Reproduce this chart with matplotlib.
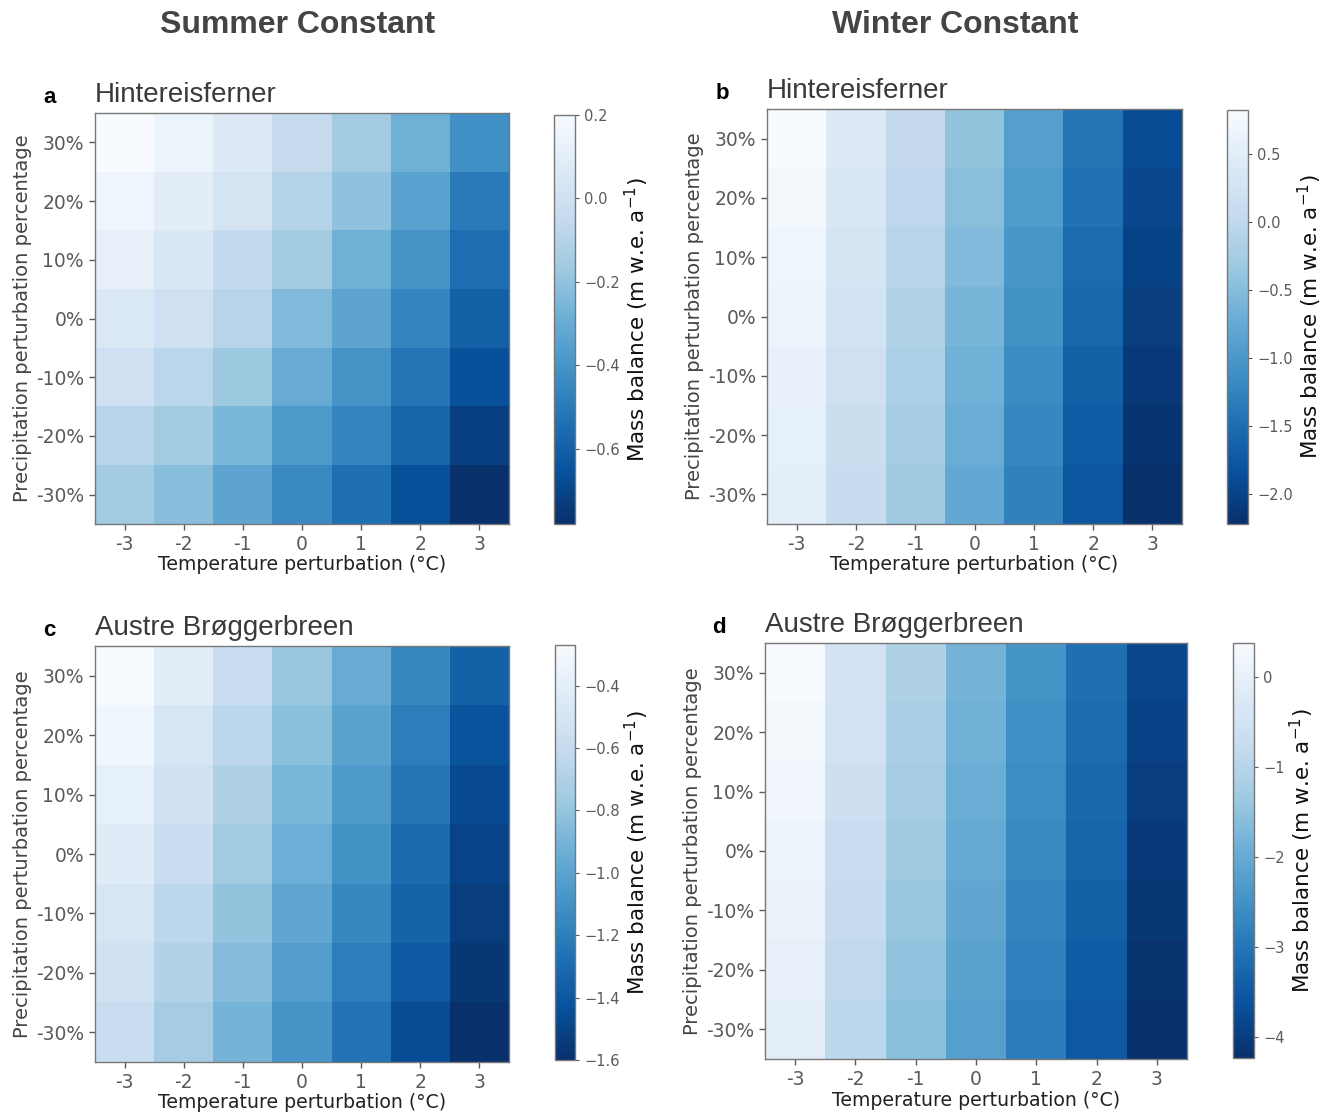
import numpy as np
import matplotlib
matplotlib.use("Agg")
import matplotlib.pyplot as plt
from matplotlib.colors import Normalize
from matplotlib.ticker import FuncFormatter

# ---------------- data ----------------
temp_labels = ["-3", "-2", "-1", "0", "1", "2", "3"]
precip_labels = ["30%", "20%", "10%", "0%", "-10%", "-20%", "-30%"]

# rows: precipitation 30% -> -30%, columns: temperature -3 -> 3
hef_summer = [
    [0.20, 0.14, 0.07, -0.04, -0.15, -0.28, -0.42],
    [0.16, 0.10, 0.03, -0.10, -0.20, -0.34, -0.50],
    [0.12, 0.05, -0.05, -0.15, -0.28, -0.40, -0.55],
    [0.06, 0.00, -0.09, -0.24, -0.33, -0.46, -0.60],
    [0.00, -0.08, -0.17, -0.30, -0.40, -0.52, -0.66],
    [-0.09, -0.15, -0.25, -0.38, -0.46, -0.58, -0.72],
    [-0.15, -0.22, -0.33, -0.44, -0.54, -0.66, -0.78],
]
hef_winter = [
    [0.82, 0.42, 0.05, -0.40, -0.90, -1.40, -1.88],
    [0.76, 0.36, -0.02, -0.47, -0.96, -1.46, -1.94],
    [0.70, 0.30, -0.08, -0.53, -1.02, -1.52, -2.00],
    [0.64, 0.25, -0.13, -0.60, -1.08, -1.58, -2.06],
    [0.60, 0.20, -0.18, -0.66, -1.14, -1.64, -2.12],
    [0.56, 0.15, -0.24, -0.72, -1.20, -1.70, -2.17],
    [0.52, 0.10, -0.30, -0.78, -1.26, -1.76, -2.22],
]
ab_summer = [
    [-0.27, -0.42, -0.58, -0.78, -0.95, -1.15, -1.35],
    [-0.32, -0.48, -0.64, -0.83, -1.00, -1.20, -1.42],
    [-0.38, -0.53, -0.70, -0.88, -1.05, -1.24, -1.46],
    [-0.43, -0.58, -0.75, -0.93, -1.10, -1.30, -1.50],
    [-0.48, -0.64, -0.80, -0.98, -1.15, -1.34, -1.53],
    [-0.53, -0.69, -0.85, -1.03, -1.20, -1.39, -1.56],
    [-0.58, -0.74, -0.90, -1.08, -1.26, -1.45, -1.60],
]
ab_winter = [
    [0.38, -0.45, -1.10, -1.80, -2.45, -3.10, -3.85],
    [0.30, -0.52, -1.18, -1.87, -2.52, -3.17, -3.92],
    [0.22, -0.60, -1.25, -1.94, -2.59, -3.24, -3.98],
    [0.15, -0.67, -1.33, -2.01, -2.66, -3.31, -4.04],
    [0.08, -0.74, -1.40, -2.08, -2.73, -3.38, -4.10],
    [0.01, -0.82, -1.48, -2.15, -2.80, -3.45, -4.16],
    [-0.06, -0.90, -1.55, -2.22, -2.87, -3.52, -4.23],
]

panels = [
    ("a", "Hintereisferner", hef_summer, [0.2, 0.0, -0.2, -0.4, -0.6], "%.1f"),
    ("b", "Hintereisferner", hef_winter, [0.5, 0.0, -0.5, -1.0, -1.5, -2.0], "%.1f"),
    ("c", "Austre Brøggerbreen", ab_summer, [-0.4, -0.6, -0.8, -1.0, -1.2, -1.4, -1.6], "%.1f"),
    ("d", "Austre Brøggerbreen", ab_winter, [0, -1, -2, -3, -4], "%d"),
]

# ---------------- layout (pixel positions) ----------------
W, H = 1329, 1113
fig = plt.figure(figsize=(W / 100, H / 100), dpi=100)

def rect(x0, y0, x1, y1):
    return [x0 / W, 1 - y1 / H, (x1 - x0) / W, (y1 - y0) / H]

ax_rects = [rect(95, 113, 509, 524), rect(767, 109, 1182, 524),
            rect(95, 646, 509, 1062), rect(765, 643, 1187, 1059)]
cb_rects = [rect(554, 115, 575, 524), rect(1227, 110, 1248, 524),
            rect(555, 645, 575, 1060), rect(1233, 643, 1254, 1058)]

tick_col = "#5a5a5a"
edge_col = "#777777"

def make_fmt(fmt):
    def f(v, pos):
        s = fmt % v
        if s.startswith("-") and float(s) == 0:
            s = s[1:]
        return s.replace("-", "\u2212")
    return FuncFormatter(f)

for (letter, name, data, cticks, fmt), ar, cr in zip(panels, ax_rects, cb_rects):
    arr = np.array(data)
    ax = fig.add_axes(ar)
    norm = Normalize(vmin=arr.min(), vmax=arr.max())
    im = ax.imshow(arr, cmap="Blues_r", norm=norm, aspect="auto",
                   interpolation="nearest")
    ax.set_xticks(range(len(temp_labels)))
    ax.set_xticklabels(temp_labels)
    ax.set_yticks(range(len(precip_labels)))
    ax.set_yticklabels(precip_labels)
    ax.tick_params(colors=tick_col, labelsize=13.5, length=4, width=1,
                   labelcolor=tick_col, pad=4)
    for s in ax.spines.values():
        s.set_color(edge_col)
        s.set_linewidth(1.0)
    ax.set_xlabel("Temperature perturbation (°C)", fontsize=13.6, color="#222222",
                  labelpad=1)
    ax.set_ylabel("Precipitation perturbation percentage", fontsize=14,
                  color="#444444", labelpad=3)
    ax.text(0.0, 1.012, name, transform=ax.transAxes, fontsize=20,
            family="Liberation Sans", color="#3a3a3a", ha="left", va="bottom")
    ax.text(-0.125, 1.012, letter, transform=ax.transAxes, fontsize=16,
            family="Liberation Sans", fontweight="bold", color="black",
            ha="left", va="bottom")

    cax = fig.add_axes(cr)
    cb = fig.colorbar(im, cax=cax)
    cb.set_ticks(cticks)
    cb.ax.yaxis.set_major_formatter(make_fmt(fmt))
    cb.ax.tick_params(labelsize=10.5, colors=tick_col, labelcolor=tick_col,
                      length=3, width=0.8)
    cb.outline.set_edgecolor(edge_col)
    cb.outline.set_linewidth(1.0)
    cb.set_label("Mass balance (m w.e. a$^{-1}$)", fontsize=15.5, color="#111111",
                 labelpad=2)

fig.text(298 / W, 1 - 25 / H, "Summer Constant", fontsize=23, fontweight="bold",
         family="Liberation Sans", color="#444444", ha="center", va="center")
fig.text(955 / W, 1 - 25 / H, "Winter Constant", fontsize=23, fontweight="bold",
         family="Liberation Sans", color="#444444", ha="center", va="center")

fig.savefig("out.png", dpi=100)
